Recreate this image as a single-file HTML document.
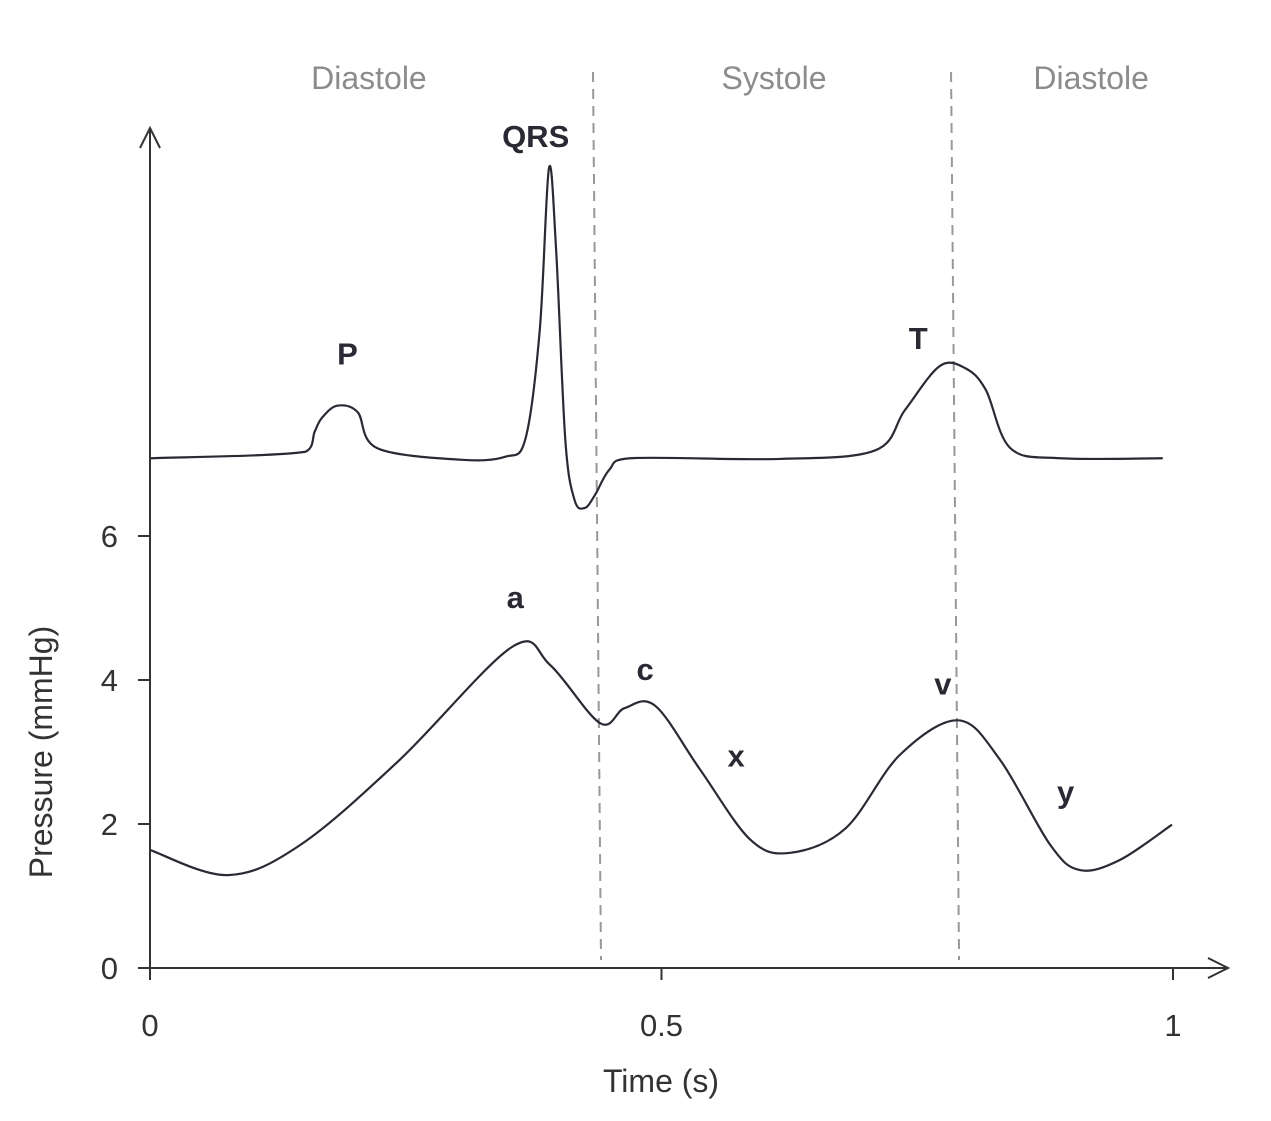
<!DOCTYPE html>
<html><head><meta charset="utf-8"><style>
body{margin:0;background:#fff}
svg text{font-family:"Liberation Sans",Arial,sans-serif}
</style></head><body>
<svg width="1271" height="1116" viewBox="0 0 1271 1116">
<g id="g"></g>
</svg>
<script>
const tickX=[0,0.5,1];
const tickXLabels=["0","0.5","1"];
const tickY=[0,2,4,6];
const tickYLabels=["0","2","4","6"];
const pressT=[0,0.076,0.147,0.244,0.354,0.391,0.44,0.464,0.494,0.538,0.587,0.626,0.68,0.733,0.79,0.831,0.88,0.909,0.948,0.999];
const pressV=[1.64,1.29,1.71,2.89,4.46,4.21,3.40,3.61,3.64,2.75,1.78,1.60,1.94,2.96,3.44,2.89,1.71,1.36,1.50,1.99];
const ecgT=[0,0.152,0.161,0.168,0.183,0.203,0.222,0.303,0.347,0.367,0.381,0.39,0.397,0.406,0.415,0.425,0.435,0.449,0.469,0.616,0.709,0.738,0.772,0.797,0.817,0.841,0.89,0.99];
const ecgV=[7.08,7.17,7.45,7.64,7.81,7.72,7.22,7.06,7.10,7.35,8.86,11.11,9.97,7.33,6.5,6.39,6.57,6.92,7.08,7.07,7.19,7.75,8.36,8.33,8.03,7.22,7.08,7.08];
const phaseT=[0.435,0.785];
const phaseNames=["Diastole","Systole","Diastole"];
const phaseLabelT=[0.214,0.61,0.92];
const ecgLabels=[["P",0.193,8.38],["QRS",0.377,11.4],["T",0.751,8.6]];
const waveLabels=[["a",0.357,5.0],["c",0.484,4.0],["x",0.573,2.8],["v",0.775,3.8],["y",0.895,2.3]];
const X=t=>150+t*1023, Y=v=>968-v*72;
const g=document.getElementById('g');const NS="http://www.w3.org/2000/svg";
function mk(tag,attrs,name,txt){const e=document.createElementNS(NS,tag);for(const k in attrs)e.setAttribute(k,attrs[k]);


if(txt!==undefined)e.textContent=txt;g.appendChild(e);return e;}
function smooth(ts,vs){const p=ts.map((t,i)=>[X(t),Y(vs[i])]);let d=`M${p[0][0]},${p[0][1]}`;
const cl=(v,a,b)=>Math.max(a,Math.min(b,v));
for(let i=0;i<p.length-1;i++){const p0=p[i-1]||p[i],p1=p[i],p2=p[i+1],p3=p[i+2]||p2;
const c1=[cl(p1[0]+(p2[0]-p0[0])/6,p1[0],p2[0]),p1[1]+(p2[1]-p0[1])/6],c2=[cl(p2[0]-(p3[0]-p1[0])/6,p1[0],p2[0]),p2[1]-(p3[1]-p1[1])/6];
d+=`C${c1[0]},${c1[1]} ${c2[0]},${c2[1]} ${p2[0]},${p2[1]}`;}return d;}
phaseT.forEach((t,i)=>mk('line',{x1:X(t)-2,y1:72,x2:X(t)+6,y2:960,stroke:'#999','stroke-width':2,'stroke-dasharray':'10,7'},'phase-divider-'+i));
phaseNames.forEach((n,i)=>mk('text',{x:X(phaseLabelT[i]),y:89,'text-anchor':'middle','font-size':32,fill:'#8c8c8c'},'phase-label-'+i,n));
mk('path',{d:'M150,968 V128 M140,148 L150,128 L160,148',fill:'none',stroke:'#333','stroke-width':2},'y-axis');
mk('path',{d:'M150,968 H1228 M1208,958 L1228,968 L1208,978',fill:'none',stroke:'#333','stroke-width':2},'x-axis');
tickY.forEach((v,i)=>{mk('line',{x1:138,x2:150,y1:Y(v),y2:Y(v),stroke:'#333','stroke-width':2},'y-tick');
mk('text',{x:118,y:Y(v)+11,'text-anchor':'end','font-size':31,fill:'#333'},'y-tick-label',tickYLabels[i]);});
tickX.forEach((t,i)=>{mk('line',{x1:X(t),x2:X(t),y1:968,y2:980,stroke:'#333','stroke-width':2},'x-tick');
mk('text',{x:X(t),y:1036,'text-anchor':'middle','font-size':31,fill:'#333'},'x-tick-label',tickXLabels[i]);});
mk('text',{x:661,y:1092,'text-anchor':'middle','font-size':32,fill:'#333'},'x-axis-title','Time (s)');
mk('text',{x:0,y:0,transform:'translate(52,752) rotate(-90)','text-anchor':'middle','font-size':32,fill:'#333'},'y-axis-title','Pressure (mmHg)');
mk('path',{d:smooth(ecgT,ecgV),fill:'none',stroke:'#2a2a35','stroke-width':2.2},'ecg-line');
mk('path',{d:smooth(pressT,pressV),fill:'none',stroke:'#2a2a35','stroke-width':2.2},'pressure-line');
ecgLabels.forEach(l=>mk('text',{x:X(l[1]),y:Y(l[2]),'text-anchor':'middle','font-size':31,'font-weight':'bold',fill:'#2a2a35'},'ecg-label-'+l[0].toLowerCase(),l[0]));
waveLabels.forEach(l=>mk('text',{x:X(l[1]),y:Y(l[2]),'text-anchor':'middle','font-size':31,'font-weight':'bold',fill:'#2a2a35'},'wave-label-'+l[0],l[0]));
</script>
</body></html>
